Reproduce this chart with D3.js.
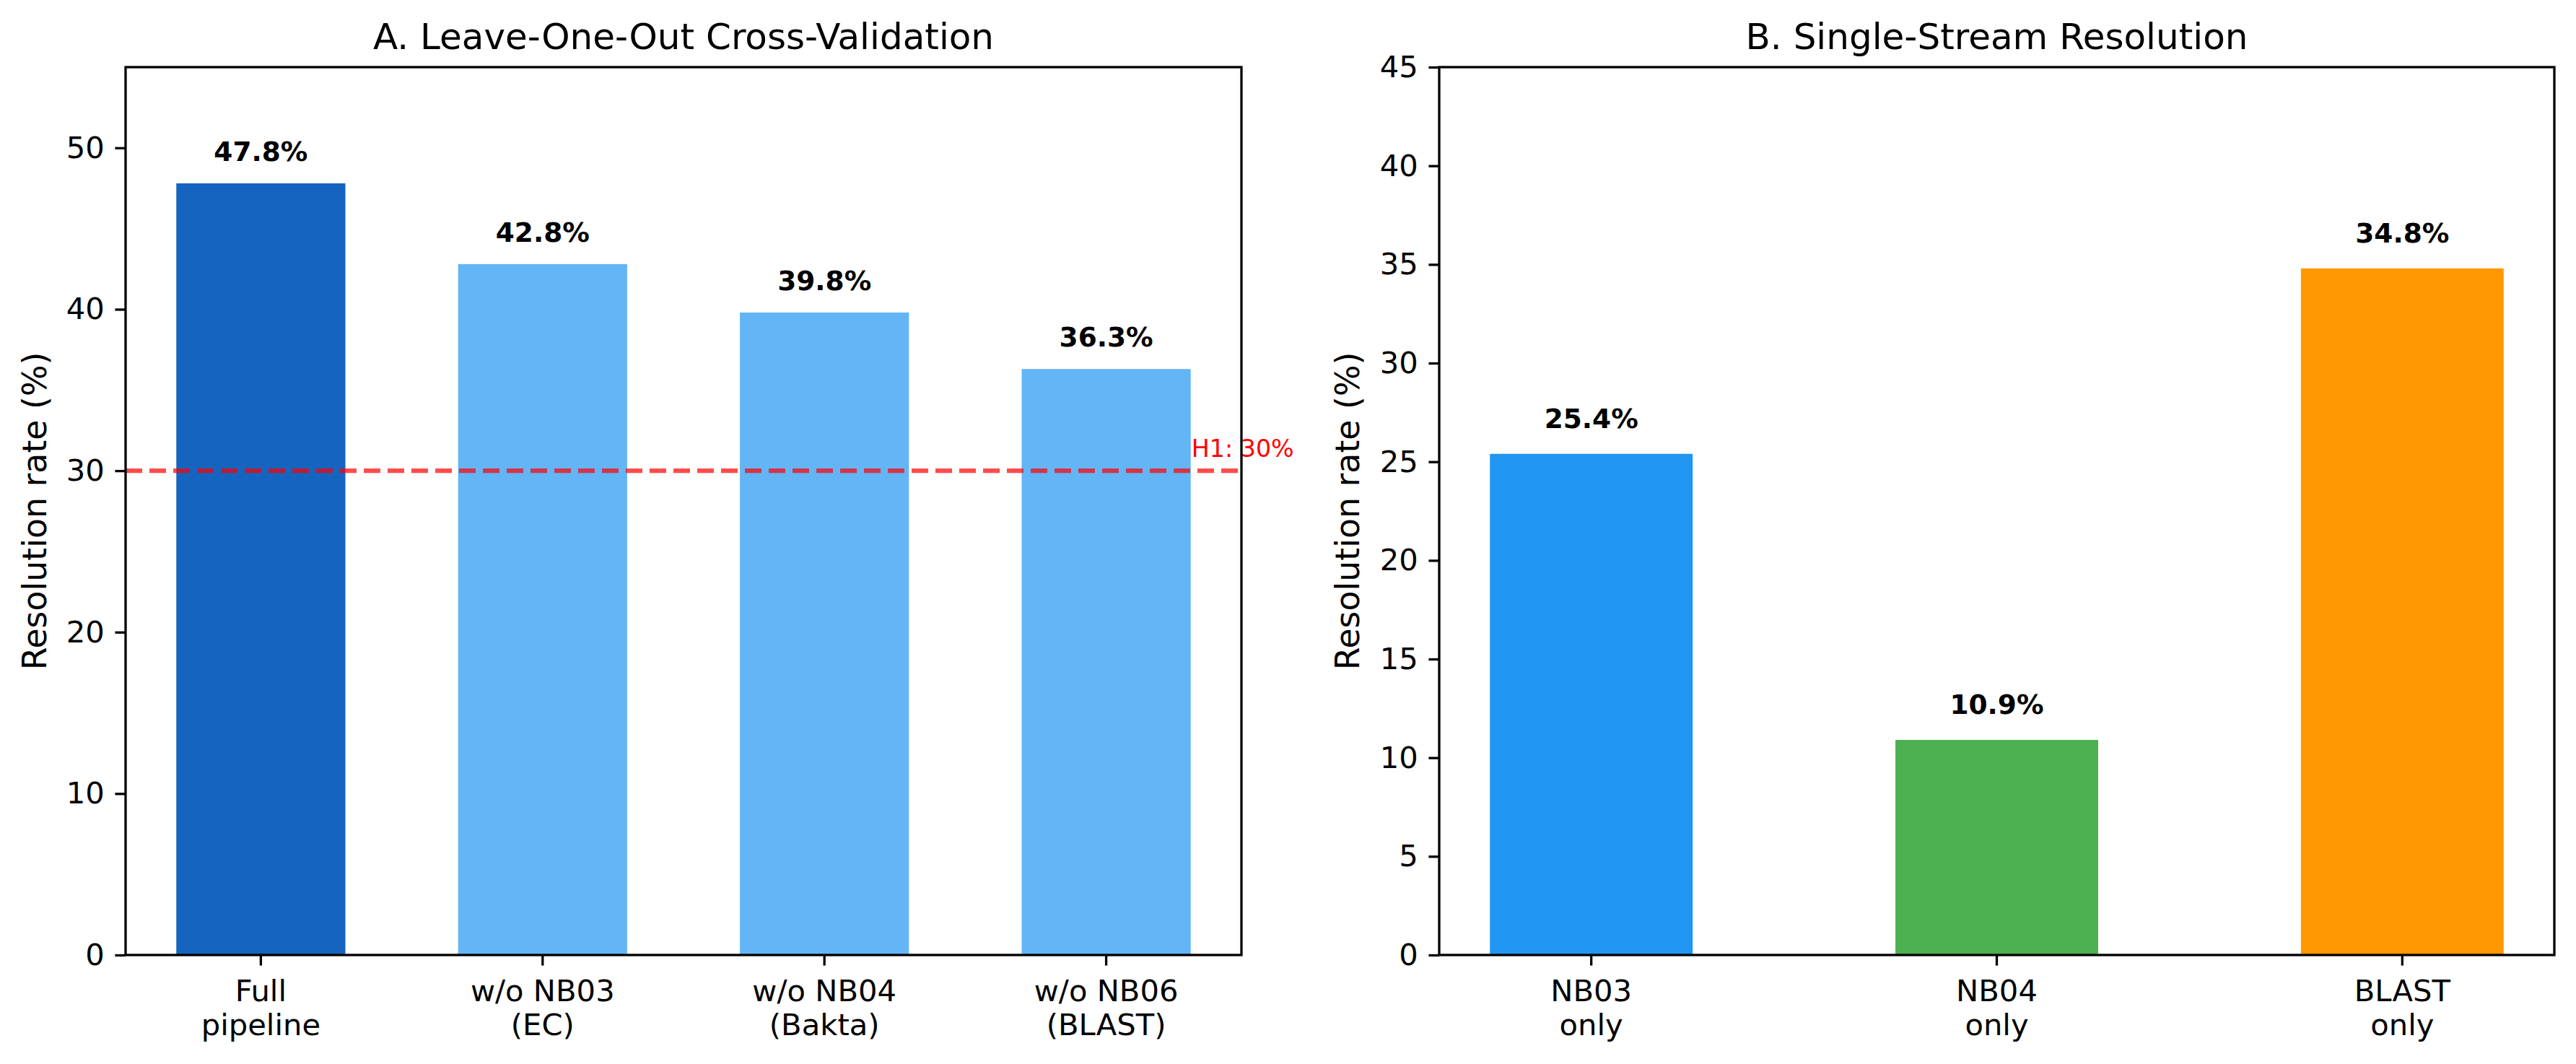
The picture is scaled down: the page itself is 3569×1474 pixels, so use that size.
<!DOCTYPE html>
<html>
<head>
<meta charset="utf-8">
<script src="https://cdn.jsdelivr.net/npm/d3@7"></script>
<style>
  html, body { margin: 0; padding: 0; background: #fff; }
  svg { display: block; font-family: "DejaVu Sans", sans-serif; }
</style>
</head>
<body>
<svg id="chart" width="3569" height="1474"></svg>
<script>
// ---- data ----
const catsA = ["Full\npipeline", "w/o NB03\n(EC)", "w/o NB04\n(Bakta)", "w/o NB06\n(BLAST)"];
const valsA = [47.8, 42.8, 39.8, 36.3];
const colorsA = ["#1565C0", "#64B5F6", "#64B5F6", "#64B5F6"];
const ticksA = [0, 10, 20, 30, 40, 50];
const maxA = 55;
const thresholdA = 30;
const thresholdLabel = "H1: 30%";
const titleA = "A. Leave-One-Out Cross-Validation";

const catsB = ["NB03\nonly", "NB04\nonly", "BLAST\nonly"];
const valsB = [25.4, 10.9, 34.8];
const colorsB = ["#2196F3", "#4CAF50", "#FF9800"];
const ticksB = [0, 5, 10, 15, 20, 25, 30, 35, 40, 45];
const maxB = 45;
const titleB = "B. Single-Stream Resolution";
const yLabel = "Resolution rate (%)";

// ---- layout ----
const svg = d3.select("#chart");
const plotTop = 93, plotBottom = 1323;
const tickLen = 14.6, tickPad = 14.6, lw = 3.3;

function panel(opts) {
  const g = svg.append("g");
  const x = d3.scaleBand().domain(opts.cats).range([opts.left, opts.right])
    .paddingInner(opts.pi).paddingOuter(opts.po);
  const y = d3.scaleLinear().domain([0, opts.max]).range([plotBottom, plotTop]);

  // bars
  g.selectAll("rect.bar").data(opts.vals).enter().append("rect")
    .attr("class", "bar")
    .attr("x", (d, i) => x(opts.cats[i]))
    .attr("width", x.bandwidth())
    .attr("y", d => y(d))
    .attr("height", d => y(0) - y(d))
    .attr("fill", (d, i) => opts.colors[i]);

  // threshold line
  if (opts.threshold !== undefined) {
    g.append("line")
      .attr("x1", opts.left).attr("x2", opts.right)
      .attr("y1", y(opts.threshold)).attr("y2", y(opts.threshold))
      .attr("stroke", "red").attr("stroke-opacity", 0.7)
      .attr("stroke-width", 6.25).attr("stroke-dasharray", "23,10");
    const last = opts.cats[opts.cats.length - 1];
    g.append("text")
      .attr("x", x(last) + x.bandwidth() + 1)
      .attr("y", y(opts.threshold + 0.5) - 8)
      .attr("fill", "red").attr("font-size", 33.3)
      .text(opts.thresholdLabel);
  }

  // value labels
  g.selectAll("text.val").data(opts.vals).enter().append("text")
    .attr("class", "val")
    .attr("x", (d, i) => x(opts.cats[i]) + x.bandwidth() / 2)
    .attr("y", d => y(d + 1) - 8.8)
    .attr("text-anchor", "middle")
    .attr("font-size", 37.5).attr("font-weight", "bold")
    .text(d => d.toFixed(1) + "%");

  // y axis
  const ya = g.append("g").attr("transform", `translate(${opts.left},0)`)
    .call(d3.axisLeft(y).tickValues(opts.ticks).tickSize(tickLen).tickPadding(tickPad).tickFormat(d3.format("d")));
  ya.select(".domain").remove();
  ya.selectAll(".tick line").attr("stroke", "#000").attr("stroke-width", lw);
  ya.selectAll(".tick text").attr("font-size", 41.7).attr("fill", "#000")
    .attr("font-family", "DejaVu Sans");

  // x axis
  const xa = g.append("g").attr("transform", `translate(0,${plotBottom})`)
    .call(d3.axisBottom(x).tickSize(tickLen).tickPadding(tickPad));
  xa.select(".domain").remove();
  xa.selectAll(".tick line").attr("stroke", "#000").attr("stroke-width", lw);
  xa.selectAll(".tick text").each(function(d) {
    const t = d3.select(this);
    t.text(null).attr("font-size", 41.7).attr("fill", "#000")
      .attr("font-family", "DejaVu Sans").attr("dy", null).attr("y", 0);
    d.split("\n").forEach((line, i) => {
      t.append("tspan").attr("x", 0).attr("y", 64 + i * 47).text(line);
    });
  });

  // frame
  g.append("rect")
    .attr("x", opts.left).attr("y", plotTop)
    .attr("width", opts.right - opts.left).attr("height", plotBottom - plotTop)
    .attr("fill", "none").attr("stroke", "#000").attr("stroke-width", lw);

  // title
  g.append("text")
    .attr("x", (opts.left + opts.right) / 2).attr("y", 68)
    .attr("text-anchor", "middle").attr("font-size", 50)
    .text(opts.title);

  // y label
  g.append("text")
    .attr("transform", `translate(${opts.ylabelX},${(plotTop + plotBottom) / 2}) rotate(-90)`)
    .attr("text-anchor", "middle").attr("dominant-baseline", "central")
    .attr("font-size", 45.8)
    .text(yLabel);
}

panel({ cats: catsA, vals: valsA, colors: colorsA, ticks: ticksA, max: maxA,
  left: 174, right: 1720, pi: 0.4, po: 0.18, threshold: thresholdA,
  thresholdLabel: thresholdLabel, title: titleA, ylabelX: 48 });
panel({ cats: catsB, vals: valsB, colors: colorsB, ticks: ticksB, max: maxB,
  left: 1994, right: 3539, pi: 0.5, po: 0.125, title: titleB, ylabelX: 1867 });
</script>
</body>
</html>
